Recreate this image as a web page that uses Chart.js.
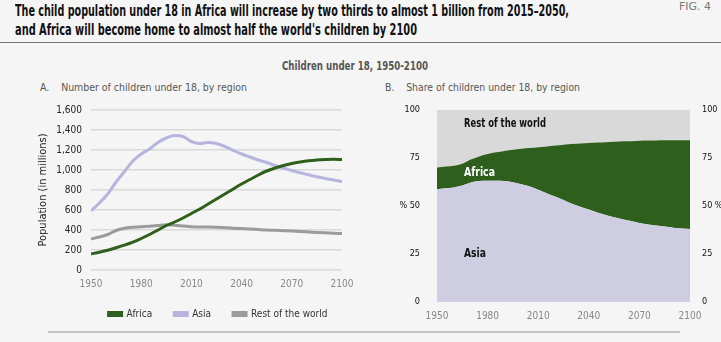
<!DOCTYPE html>
<html>
<head>
<meta charset="utf-8">
<script src="https://cdn.jsdelivr.net/npm/chart.js@4"></script>
<style>
  body { margin: 0; background: #f5f5f5; width: 721px; height: 342px; overflow: hidden; position: relative;
         font-family: "Liberation Sans Narrow", "DejaVu Sans Condensed", "Liberation Sans", sans-serif; }
  .t { position: absolute; white-space: nowrap; transform-origin: 0 0; }
  #title1, #title2 { left: 15px; font-size: 16px; font-weight: bold; color: #111; }
  #title1 { top: 1px; }
  #title2 { top: 20px; }
  #fig { left: 679px; top: 1px; font-size: 10px; color: #777; }
  #rule { position: absolute; left: 0; top: 42px; width: 721px; height: 1px; background: #777; }
  #sub { left: 282px; top: 58px; font-size: 13px; font-weight: bold; color: #555; }
  #capA { left: 40px; top: 81px; font-size: 11px; color: #555; }
  #capB { left: 385px; top: 81px; font-size: 11px; color: #555; }
  #foot { position: absolute; left: 48px; top: 331px; width: 632px; height: 2px; background: #c4c4c4; }
  canvas { position: absolute; }
  #cA { left: 20px; top: 95px; }
  #cB { left: 380px; top: 95px; }
</style>
</head>
<body>
<div class="t" id="title1" data-w="554">The child population under 18 in Africa will increase by two thirds to almost 1 billion from 2015–2050,</div>
<div class="t" id="title2" data-w="402">and Africa will become home to almost half the world's children by  2100</div>
<div class="t" id="fig" data-w="32">FIG. 4</div>
<div id="rule"></div>
<div class="t" id="sub" data-w="146">Children under 18, 1950-2100</div>
<div class="t" id="capA" data-w="207">A.&nbsp;&nbsp;&nbsp; Number of children under 18, by region</div>
<div class="t" id="capB" data-w="195">B.&nbsp;&nbsp;&nbsp; Share of children under 18, by region</div>
<div id="foot"></div>
<canvas id="cA" width="380" height="238"></canvas>
<canvas id="cB" width="341" height="228"></canvas>
<script>
// years, every 5
const years = [1950,1955,1960,1965,1970,1975,1980,1985,1990,1995,2000,2005,2010,2015,2020,2025,2030,
  2035,2040,2045,2050,2055,2060,2065,2070,2075,2080,2085,2090,2095,2100];

// A. children under 18, millions
const africa = [160,178,198,222,248,278,315,355,400,445,480,520,565,610,660,710,760,
  810,860,905,950,990,1020,1045,1065,1080,1092,1100,1105,1108,1105];
const asia = [590,670,760,880,985,1090,1160,1210,1275,1320,1345,1335,1285,1265,1275,1265,1235,
  1195,1160,1130,1100,1075,1045,1020,995,972,952,932,915,900,885];
const restWorld = [310,330,355,395,418,428,432,438,445,452,448,440,432,430,430,428,423,
  418,414,410,405,400,397,393,389,384,380,376,372,368,364];

// B. share of children under 18, %
const asiaShare = [58.5,59.0,59.5,60.5,62.0,62.8,63.0,63.0,62.8,62.2,61.2,60.0,58.3,56.5,54.8,53.0,51.0,
  49.5,48.0,46.5,45.2,44.0,43.0,42.0,41.0,40.3,39.7,39.2,38.6,38.2,37.9];
const africaShare = [11.3,11.3,11.3,11.3,12.0,12.8,13.8,14.7,15.6,16.8,18.4,20.0,22.1,24.3,26.4,28.6,31.0,
  32.8,34.6,36.3,37.8,39.2,40.4,41.5,42.7,43.5,44.2,44.8,45.4,45.8,46.1];
const restShare = [30.2,29.7,29.2,28.2,26.0,24.4,23.2,22.3,21.6,21.0,20.4,20.0,19.6,19.2,18.8,18.4,18.0,
  17.7,17.4,17.2,17.0,16.8,16.6,16.5,16.3,16.2,16.1,16.0,16.0,16.0,16.0];

const seriesNames = ['Africa', 'Asia', 'Rest of the world'];
const xTicks = [1950,1980,2010,2040,2070,2100];
const yTicksA = [0,200,400,600,800,1000,1200,1400,1600];
const yTicksB = [0,25,50,75,100];

const GREEN = '#2e5f1c', PURPLE = '#b9b4de', GREY = '#9b9b9b';
const NARROW = '"Liberation Sans Narrow", "DejaVu Sans Condensed", "Liberation Sans", sans-serif';

// squeeze html text to the reference widths
document.querySelectorAll('.t').forEach(el => {
  const w = el.getBoundingClientRect().width;
  el.style.transform = 'scaleX(' + (el.dataset.w / w) + ')';
});

const pts = arr => arr.map((v, i) => ({x: years[i], y: v}));

// y title drawn by hand, legend nudged right under the plot
const chartAExtras = {
  id: 'chartAExtras',
  afterLayout(chart) {
    chart.legend.left += 30;
    chart.legend.right += 30;
  },
  afterDraw(chart) {
    const {ctx, chartArea: a} = chart;
    ctx.save();
    ctx.translate(23, (a.top + a.bottom) / 2);
    ctx.rotate(-Math.PI / 2);
    ctx.font = '11px ' + NARROW;
    ctx.fillStyle = '#222';
    ctx.textAlign = 'center';
    ctx.textBaseline = 'middle';
    ctx.fillText('Population (in millions)', 0, 0);
    ctx.restore();
  }
};

new Chart(document.getElementById('cA'), {
  type: 'line',
  data: {
    datasets: [
      {label: seriesNames[0], data: pts(africa), borderColor: GREEN, backgroundColor: GREEN},
      {label: seriesNames[1], data: pts(asia), borderColor: PURPLE, backgroundColor: PURPLE},
      {label: seriesNames[2], data: pts(restWorld), borderColor: GREY, backgroundColor: GREY}
    ]
  },
  options: {
    responsive: false, animation: false,
    layout: {padding: {top: 5, right: 58, left: 14, bottom: 4}},
    elements: {point: {radius: 0}, line: {borderWidth: 3, cubicInterpolationMode: 'monotone'}},
    plugins: {
      tooltip: {enabled: false},
      legend: {
        position: 'bottom',
        labels: {boxWidth: 13, boxHeight: 3, padding: 22, color: '#333',
          font: {family: NARROW, size: 10}}
      }
    },
    scales: {
      x: {
        type: 'linear', min: 1950, max: 2100,
        grid: {display: false}, border: {display: false},
        afterBuildTicks: s => { s.ticks = xTicks.map(v => ({value: v})); },
        ticks: {color: '#888', font: {family: NARROW, size: 10}, callback: v => String(v), padding: 0, maxRotation: 0},
        afterFit: s => { s.height = 17; }
      },
      y: {
        min: 0, max: 1600,
        afterBuildTicks: s => { s.ticks = yTicksA.map(v => ({value: v})); },
        grid: {color: '#d9d9d9', lineWidth: 1.5, drawTicks: false}, border: {display: false},
        ticks: {color: '#222', font: {family: NARROW, size: 10}, padding: 9,
          callback: v => v.toLocaleString('en-US')},
        afterFit: s => { s.width = 57; }
      }
    }
  },
  plugins: [chartAExtras]
});

const areaLabels = {
  id: 'areaLabels',
  afterDatasetsDraw(chart) {
    const {ctx, scales: {x, y}} = chart;
    const lx = x.getPixelForValue(1966);
    ctx.save();
    ctx.font = 'bold 12px ' + NARROW;
    ctx.textBaseline = 'middle';
    ctx.textAlign = 'left';
    ctx.fillStyle = '#111';
    ctx.fillText('Rest of the world', lx, y.getPixelForValue(92.5), 82);
    ctx.fillText('Asia', lx, y.getPixelForValue(25), 22);
    ctx.fillStyle = '#fff';
    ctx.fillText('Africa', lx, y.getPixelForValue(67), 31);
    ctx.restore();
  }
};

const shareTick = side => v => v === 50 ? (side === 'l' ? '% 50' : '50 %') : String(v);

new Chart(document.getElementById('cB'), {
  type: 'line',
  data: {
    datasets: [
      {label: 'Asia', data: pts(asiaShare), backgroundColor: '#cfcde2', fill: 'origin'},
      {label: 'Africa', data: pts(africaShare), backgroundColor: GREEN, fill: '-1'},
      {label: 'Rest of the world', data: pts(restShare), backgroundColor: '#d9d9d9', fill: '-1'}
    ]
  },
  options: {
    responsive: false, animation: false,
    layout: {padding: {top: 0, right: 0, left: 0, bottom: 0}},
    elements: {point: {radius: 0}, line: {borderWidth: 0, cubicInterpolationMode: 'monotone'}},
    plugins: {tooltip: {enabled: false}, legend: {display: false}},
    scales: {
      x: {
        type: 'linear', min: 1950, max: 2100,
        grid: {display: false}, border: {display: false},
        afterBuildTicks: s => { s.ticks = xTicks.map(v => ({value: v})); },
        ticks: {color: '#888', font: {family: NARROW, size: 10}, callback: v => String(v), padding: 0, maxRotation: 0},
        afterFit: s => { s.height = 21; }
      },
      y: {
        stacked: true, min: 0, max: 100,
        afterBuildTicks: s => { s.ticks = yTicksB.map(v => ({value: v})); },
        grid: {display: false}, border: {display: false},
        ticks: {color: '#111', font: {family: NARROW, size: 9}, padding: 9, callback: shareTick('l')},
        afterFit: s => { s.width = 57; }
      },
      y2: {
        position: 'right', min: 0, max: 100,
        afterBuildTicks: s => { s.ticks = yTicksB.map(v => ({value: v})); },
        grid: {display: false}, border: {display: false},
        ticks: {color: '#111', font: {family: NARROW, size: 9}, padding: 4, callback: shareTick('r')},
        afterFit: s => { s.width = 31; }
      }
    }
  },
  plugins: [areaLabels]
});
</script>
</body>
</html>
